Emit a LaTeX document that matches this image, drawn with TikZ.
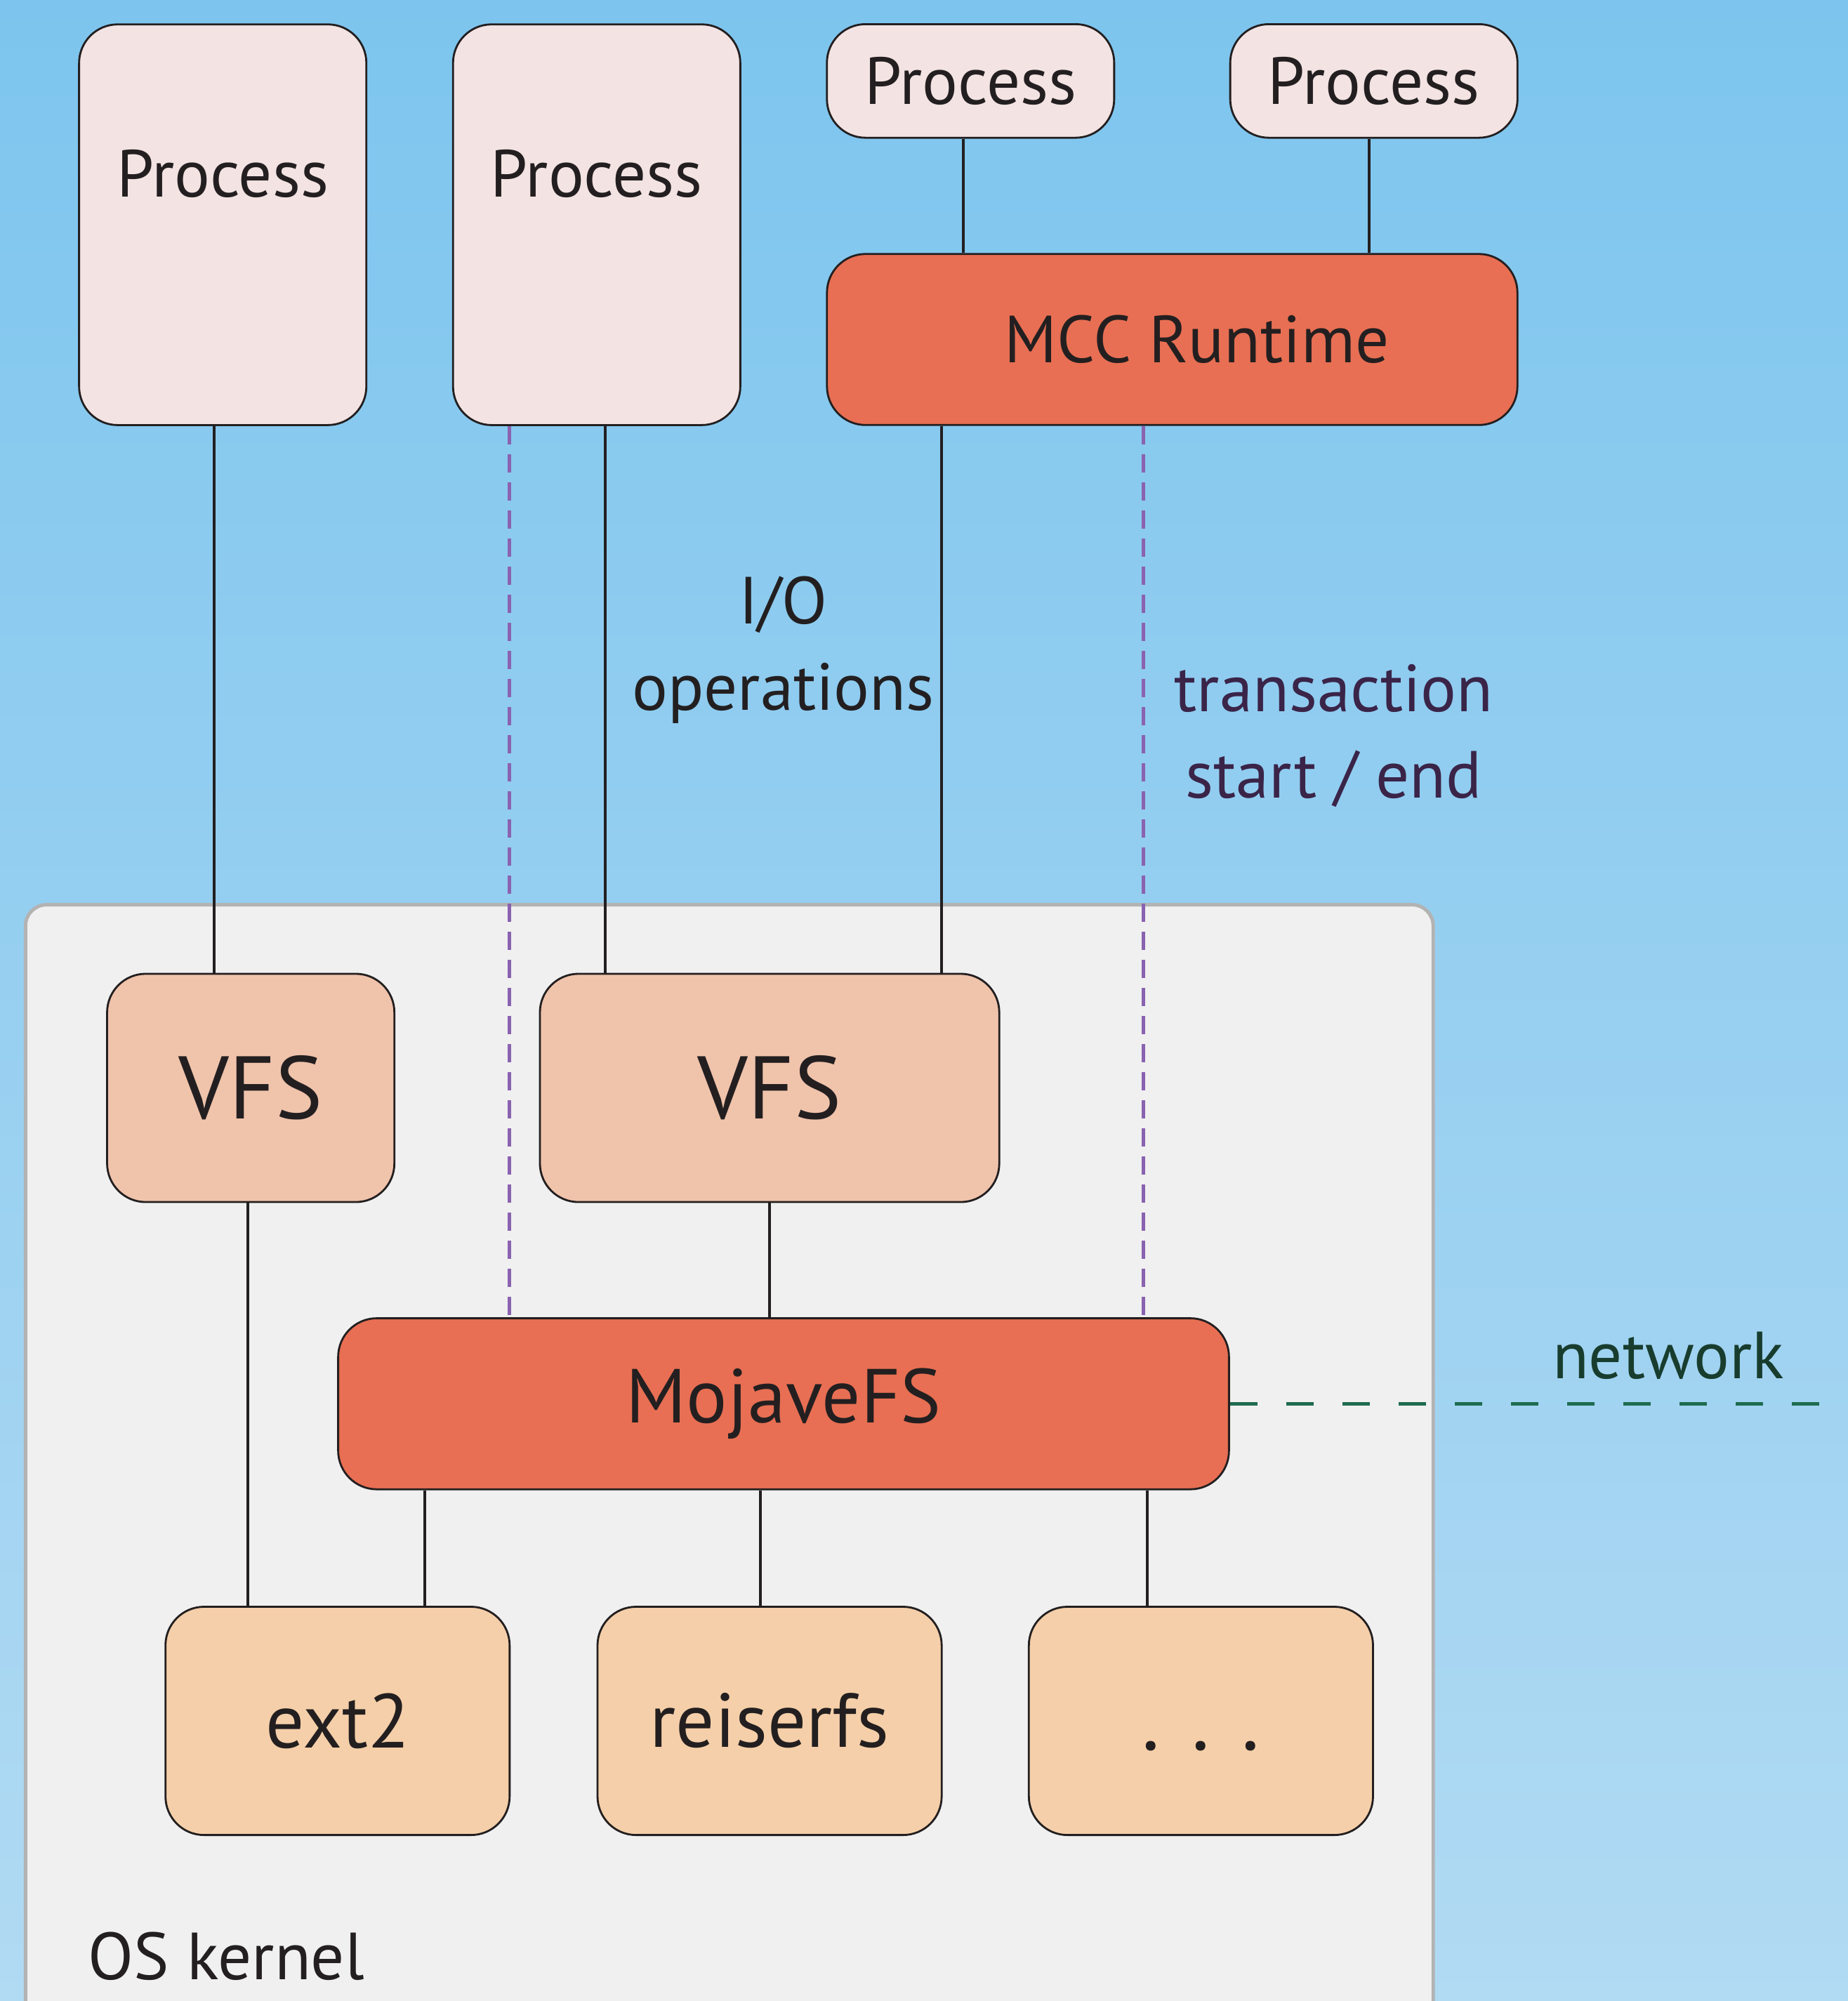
\documentclass[tikz,border=0pt]{standalone}
\usepackage{fontspec}
\setmainfont{PT Sans}
\usepackage{tikz}
\usetikzlibrary{calc}
\definecolor{bgtop}{HTML}{7DC5EE}
\definecolor{bgbot}{HTML}{B1DAF3}
\definecolor{ink}{HTML}{231F20}
\definecolor{procfill}{HTML}{F3E3E2}
\definecolor{corefill}{HTML}{E86F53}
\definecolor{vfsfill}{HTML}{F0C3AB}
\definecolor{fsfill}{HTML}{F5CFA9}
\definecolor{kernfill}{HTML}{F0F0F0}
\definecolor{kernline}{HTML}{B3B3B3}
\definecolor{txpurple}{HTML}{8A62B0}
\definecolor{txtext}{HTML}{3A2448}
\definecolor{netgreen}{HTML}{1F6B50}
\definecolor{nettext}{HTML}{183D2E}

\begin{document}
\begin{tikzpicture}[line cap=round,line join=round,x=1.0cm,y=1.0cm,
  every node/.style={text=ink},
  box/.style={draw=ink,line width=0.8pt,rounded corners=0.55cm,inner sep=0pt},
  proc/.style={box,fill=procfill,minimum width=4.09cm},
  core/.style={box,fill=corefill,minimum height=2.435cm},
  vfsbox/.style={box,fill=vfsfill,minimum height=3.25cm},
  fsbox/.style={box,fill=fsfill,minimum width=4.9cm,minimum height=3.25cm},
  big/.style={font=\fontsize{27}{33}\selectfont},
  link/.style={draw=ink,line width=1.1pt,line cap=butt},
  txline/.style={draw=txpurple,line width=1.3pt,line cap=butt,dash pattern=on 0.26cm off 0.14cm},
  netline/.style={draw=netgreen,line width=1.5pt,line cap=butt,dash pattern=on 0.39cm off 0.41cm}]
\useasboundingbox (0,0) rectangle (26.31,28.49);
\shade[top color=bgtop,bottom color=bgbot] (0,0) rectangle (26.31,28.49);
% kernel area
\draw[draw=kernline,fill=kernfill,line width=1.4pt,rounded corners=0.3cm] (0.363,-1) rectangle (20.405,15.608);
\node (kernel) [big,anchor=west] at (1.13,0.64) {OS kernel};
% processes
\node (p1) [proc,minimum height=5.705cm] at (3.171,25.29) {};
\node (p2) [proc,minimum height=5.705cm] at (8.495,25.29) {};
\node (p3) [proc,minimum height=1.617cm,big] at (13.818,27.337) {Process};
\node (p4) [proc,minimum height=1.617cm,big] at (19.56,27.337) {Process};
\node (p1t) [big] at ([yshift=-2.14cm]p1.north) {Process};
\node (p2t) [big] at ([yshift=-2.14cm]p2.north) {Process};
\node (mcc) [core,minimum width=9.83cm,big] at (16.689,23.656) {\hspace*{0.7cm}MCC Runtime};
% kernel parts
\node (vfs1) [vfsbox,minimum width=4.09cm,font=\fontsize{36}{40}\selectfont] at (3.57,13.0) {VFS};
\node (vfs2) [vfsbox,minimum width=6.54cm,font=\fontsize{36}{40}\selectfont] at (10.957,13.0) {VFS};
\node (moj) [core,minimum width=12.683cm,font=\fontsize{31}{36}\selectfont] at (11.156,8.503) {MojaveFS};
\node (ext2) [fsbox,font=\fontsize{31}{36}\selectfont] at (4.806,3.988) {ext2};
\node (reiser) [fsbox,font=\fontsize{31}{36}\selectfont] at (10.957,3.988) {reiserfs};
\node (more) [fsbox,font=\fontsize{34}{36}\selectfont] at (17.098,3.988) {\vphantom{ext2}.\hspace{0.38em}.\hspace{0.38em}.};
% labels
\node (io) [big,align=center,font=\fontsize{27}{35}\selectfont] at (11.15,19.24) {I/O\\operations};
\node (tx) [align=center,text=txtext,font=\fontsize{27}{35}\selectfont] at (18.99,18.01) {transaction\\start / end};
\node (net) [big,text=nettext] at (23.75,9.19) {network};
\coordinate (netend) at (26.31,8.503);
% connectors
\draw[link] ([xshift=-0.10cm]p3.south) -- ([xshift=-0.10cm]p3.south |- mcc.north);
\draw[link] ([xshift=-0.064cm]p4.south) -- ([xshift=-0.064cm]p4.south |- mcc.north);
\draw[link] ([xshift=-0.118cm]p1.south) -- ([xshift=-0.118cm]p1.south |- vfs1.north);
\draw[link] ([xshift=0.118cm]p2.south) -- ([xshift=0.118cm]p2.south |- vfs2.north);
\draw[link] ([xshift=-3.28cm]mcc.south) -- ([xshift=-3.28cm]mcc.south |- vfs2.north);
\draw[txline] ([xshift=-1.245cm]p2.south) -- ([xshift=-1.245cm]p2.south |- moj.north);
\draw[txline] ([xshift=-0.409cm]mcc.south) -- ([xshift=-0.409cm]mcc.south |- moj.north);
\draw[link] ([xshift=-0.045cm]vfs1.south) -- ([xshift=-0.045cm]vfs1.south |- ext2.north);
\draw[link] (vfs2.south) -- (vfs2.south |- moj.north);
\draw[link] ([xshift=-5.106cm]moj.south) -- ([xshift=-5.106cm]moj.south |- ext2.north);
\draw[link] ([xshift=-0.327cm]moj.south) -- ([xshift=-0.327cm]moj.south |- reiser.north);
\draw[link] ([xshift=5.178cm]moj.south) -- ([xshift=5.178cm]moj.south |- more.north);
\draw[netline] (moj.east) -- (netend);
\end{tikzpicture}
\end{document}
